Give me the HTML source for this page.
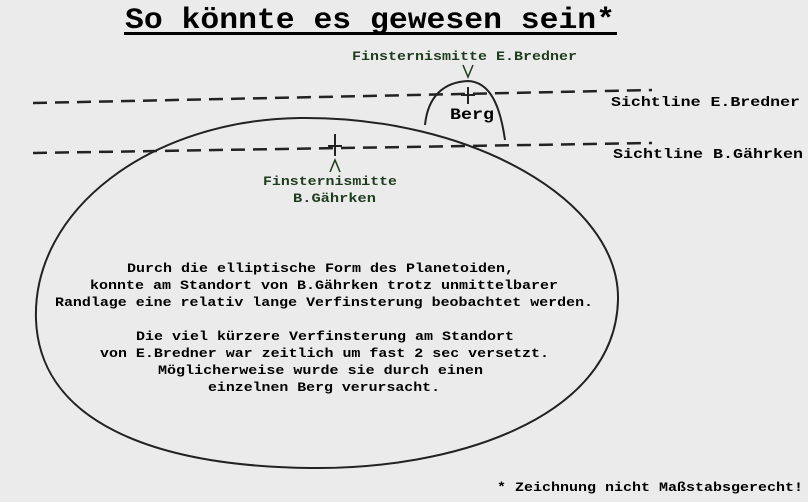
<!DOCTYPE html>
<html><head><meta charset="utf-8"><style>
html,body{margin:0;padding:0;background:#ebebeb;}
svg{display:block;}
text{font-family:"Liberation Mono","DejaVu Sans Mono",monospace;font-weight:bold;}
</style></head><body>
<svg width="808" height="502" viewBox="0 0 808 502" xmlns="http://www.w3.org/2000/svg">
<rect width="808" height="502" fill="#ebebeb"/>
<text x="125" y="28" font-size="30" textLength="490" lengthAdjust="spacingAndGlyphs" fill="#000">So könnte es gewesen sein*</text>
<rect x="124" y="32" width="493" height="3" fill="#000"/>
<path d="M300 118 C470 116 620 200 618 300 C615 420 450 470 310 468 C150 466 40 420 36 320 C32 210 150 120 300 118 Z" fill="none" stroke="#222" stroke-width="2"/>
<path d="M425 125 C428 95 445 82 468 81 C490 82 500 105 505 140" fill="none" stroke="#222" stroke-width="2"/>
<line x1="33" y1="103" x2="652" y2="90" stroke="#222" stroke-width="2.5" stroke-dasharray="14,8"/>
<line x1="33" y1="153" x2="652" y2="143" stroke="#222" stroke-width="2.5" stroke-dasharray="14,8"/>
<line x1="468" y1="87" x2="468" y2="104" stroke="#222" stroke-width="2"/>
<line x1="461" y1="95" x2="475" y2="95" stroke="#222" stroke-width="2"/>
<line x1="335" y1="134" x2="335" y2="156" stroke="#222" stroke-width="2"/>
<line x1="328" y1="146" x2="342" y2="146" stroke="#222" stroke-width="2"/>
<path d="M463 65 L468 77 L473 65" fill="none" stroke="#1e3c1e" stroke-width="1.5"/>
<path d="M330 172 L335 160 L340 172" fill="none" stroke="#1e3c1e" stroke-width="1.5"/>
<g fill="#1e3c1e" font-size="13">
<text x="352" y="60" textLength="225" lengthAdjust="spacingAndGlyphs">Finsternismitte E.Bredner</text>
<text x="263" y="185" textLength="134" lengthAdjust="spacingAndGlyphs">Finsternismitte</text>
<text x="293" y="202" textLength="83" lengthAdjust="spacingAndGlyphs">B.Gährken</text>
</g>
<g fill="#000" font-size="14">
<text x="611" y="106" textLength="189" lengthAdjust="spacingAndGlyphs">Sichtline E.Bredner</text>
<text x="613" y="158" textLength="190" lengthAdjust="spacingAndGlyphs">Sichtline B.Gährken</text>
<text x="450" y="119" font-size="16" textLength="44" lengthAdjust="spacingAndGlyphs">Berg</text>
</g>
<g fill="#000" font-size="13" lengthAdjust="spacingAndGlyphs">
<text x="127" y="272" textLength="387" lengthAdjust="spacingAndGlyphs">Durch die elliptische Form des Planetoiden,</text>
<text x="90" y="289" textLength="468" lengthAdjust="spacingAndGlyphs">konnte am Standort von B.Gährken trotz unmittelbarer</text>
<text x="55" y="306" textLength="538" lengthAdjust="spacingAndGlyphs">Randlage eine relativ lange Verfinsterung beobachtet werden.</text>
<text x="136" y="340" textLength="378" lengthAdjust="spacingAndGlyphs">Die viel kürzere Verfinsterung am Standort</text>
<text x="100" y="357" textLength="449" lengthAdjust="spacingAndGlyphs">von E.Bredner war zeitlich um fast 2 sec versetzt.</text>
<text x="158" y="374" textLength="325" lengthAdjust="spacingAndGlyphs">Möglicherweise wurde sie durch einen</text>
<text x="208" y="391" textLength="232" lengthAdjust="spacingAndGlyphs">einzelnen Berg verursacht.</text>
</g>
<text x="497" y="491" font-size="13" textLength="306" lengthAdjust="spacingAndGlyphs" fill="#000">* Zeichnung nicht Maßstabsgerecht!</text>
</svg>
</body></html>
